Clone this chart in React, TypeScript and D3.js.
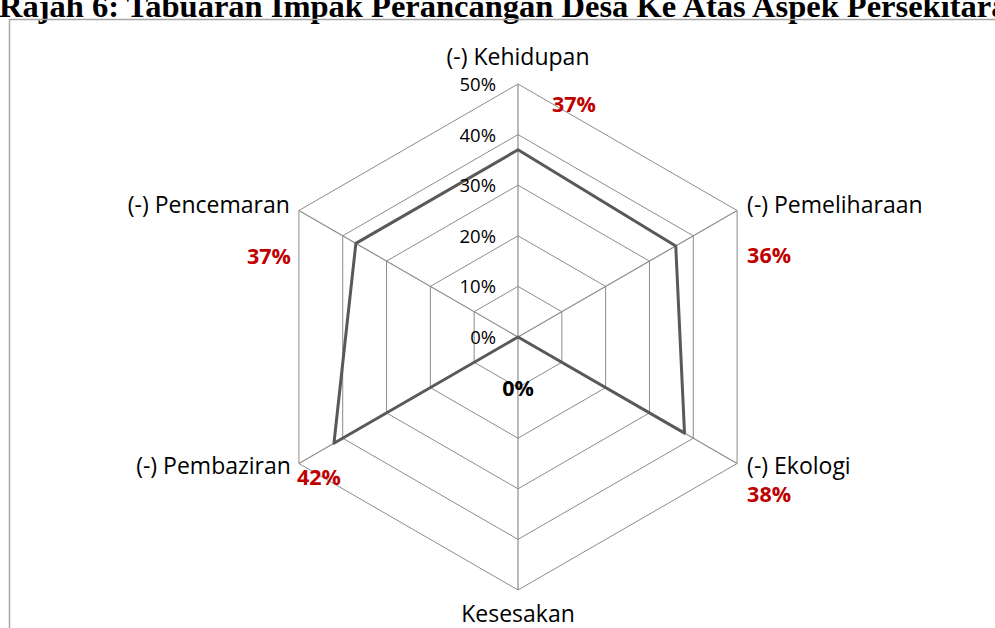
import React from 'react';
import * as d3 from 'd3';

const title = 'Rajah 6: Tabuaran Impak Perancangan Desa Ke Atas Aspek Persekitaran';
const categories = ['(-) Kehidupan', '(-) Pemeliharaan', '(-) Ekologi', 'Kesesakan', '(-) Pembaziran', '(-) Pencemaran'];
const values = [0.37, 0.36, 0.38, 0, 0.42, 0.37];
const tickValues = [0, 0.1, 0.2, 0.3, 0.4, 0.5];
const tickLabels = ['0%', '10%', '20%', '30%', '40%', '50%'];

// label placement relative to the outer vertex of each spoke
const catLayout = [
  { dx: 0, dy: -19, anchor: 'middle' },
  { dx: 10, dy: 2.5, anchor: 'start' },
  { dx: 10, dy: 10.5, anchor: 'start' },
  { dx: 0, dy: 32, anchor: 'middle' },
  { dx: -8, dy: 10.5, anchor: 'end' },
  { dx: -9, dy: 2.5, anchor: 'end' },
];
// value labels: offsets from the outer vertex (or centre when value is 0)
const valLayout = [
  { dx: 34, dy: 28, anchor: 'start', fromCenter: false },
  { dx: 10, dy: 52.5, anchor: 'start', fromCenter: false },
  { dx: 10, dy: 38, anchor: 'start', fromCenter: false },
  { dx: 0, dy: 59, anchor: 'middle', fromCenter: true },
  { dx: -2, dy: 21.5, anchor: 'start', fromCenter: false },
  { dx: -8, dy: 53.5, anchor: 'end', fromCenter: false },
];

const width = 995;
const height = 628;
const cx = 518;
const cy = 337;
const outer = 253;
const font = '"Open Sans", sans-serif';

export default function App() {
  const r = d3.scaleLinear().domain([0, 0.5]).range([0, outer]);
  const angle = (i: number) => (i * 2 * Math.PI) / categories.length;
  const pt = (i: number, v: number): [number, number] => [
    cx + r(v) * Math.sin(angle(i)),
    cy - r(v) * Math.cos(angle(i)),
  ];
  const ring = (v: number) =>
    d3.line()(categories.map((_, i) => pt(i, v))) + 'Z';
  const dataPath = d3.line()(values.map((v, i) => pt(i, v))) + 'Z';
  const pct = d3.format('.0%');

  return (
    <svg
      width={width}
      height={height}
      style={{ position: 'absolute', left: 0, top: 0, background: '#fff' }}
    >
      <text
        x={-1}
        y={17}
        fontFamily='"Liberation Serif", "Times New Roman", serif'
        fontWeight="bold"
        fontSize={32.5}
        fill="#000"
      >
        {title}
      </text>
      <rect x={9.5} y={19.5} width={1100} height={700} fill="none" stroke="#a6a6a6" strokeWidth={1.5} />

      <g>
        {tickValues.slice(1).map((t) => (
          <path key={t} d={ring(t)} fill="none" stroke="#8c8c8c" strokeWidth={1} />
        ))}
        {categories.map((c, i) => {
          const [x, y] = pt(i, 0.5);
          return <line key={c} x1={cx} y1={cy} x2={x} y2={y} stroke="#8c8c8c" strokeWidth={1.2} />;
        })}
      </g>

      <path d={dataPath} fill="none" stroke="#595959" strokeWidth={3} strokeLinejoin="round" />

      {tickValues.map((t, i) => (
        <text
          key={t}
          x={496}
          y={cy - r(t) + 7}
          textAnchor="end"
          fontFamily={font}
          fontSize={18.5}
          fill="#000"
        >
          {tickLabels[i]}
        </text>
      ))}

      {categories.map((c, i) => {
        const [x, y] = pt(i, 0.5);
        const l = catLayout[i];
        return (
          <text
            key={c}
            x={x + l.dx}
            y={y + l.dy}
            textAnchor={l.anchor}
            fontFamily={font}
            fontSize={23}
            fill="#000"
          >
            {c}
          </text>
        );
      })}

      {values.map((v, i) => {
        const l = valLayout[i];
        const [x, y] = l.fromCenter ? [cx, cy] : pt(i, 0.5);
        return (
          <text
            key={i}
            x={x + l.dx}
            y={y + l.dy}
            textAnchor={l.anchor}
            fontFamily={font}
            fontWeight="bold"
            fontSize={21.5}
            fill={v === 0 ? '#000' : '#c00000'}
          >
            {pct(v)}
          </text>
        );
      })}
    </svg>
  );
}
